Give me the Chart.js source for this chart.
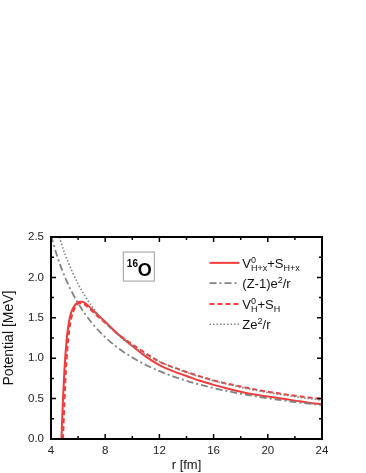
<!DOCTYPE html>
<html>
<head>
<meta charset="utf-8">
<script src="https://cdn.jsdelivr.net/npm/chart.js@4.4.1/dist/chart.umd.min.js"></script>
<style>
html,body{margin:0;padding:0;background:#fff;}
#wrap{position:relative;width:366px;height:473px;}
</style>
</head>
<body>
<div id="wrap"><canvas id="c" width="366" height="473"></canvas></div>
<script>
// ---- data ----
const rSolid = [4.72,4.8,4.9,5.0,5.1,5.2,5.35,5.5,5.7,5.9,6.1,6.3,6.6,7.0,7.5,8,9,10,11,12,13,14,15,16,17,18,19,20,21,22,23,24];
const vSolid = [-0.3,0.15,0.55,0.88,1.12,1.3,1.47,1.57,1.64,1.68,1.70,1.70,1.67,1.61,1.53,1.45,1.29,1.15,1.02,0.915,0.84,0.78,0.72,0.67,0.625,0.585,0.55,0.525,0.50,0.475,0.45,0.43];
const rDashed = [4.85,4.9,5.0,5.1,5.2,5.35,5.5,5.7,5.9,6.1,6.3,6.6,7.0,7.5,8,9,10,11,12,13,14,15,16,17,18,19,20,21,22,23,24];
const vDashed = [-0.3,0.05,0.5,0.85,1.1,1.35,1.5,1.6,1.66,1.68,1.68,1.65,1.59,1.51,1.44,1.29,1.17,1.06,0.957,0.89,0.83,0.775,0.725,0.685,0.65,0.615,0.585,0.56,0.535,0.515,0.495];
const rZ1 = [4,4.5,5,5.5,6,6.5,7,8,9,10,11,12,13,14,15,16,17,18,19,20,21,22,23,24];
const vZ1 = [2.52,2.24,2.016,1.833,1.68,1.551,1.44,1.26,1.12,1.008,0.916,0.84,0.775,0.72,0.672,0.63,0.593,0.56,0.531,0.504,0.48,0.458,0.438,0.42];
const rZ = [4.61,5,5.5,6,6.5,7,8,9,10,11,12,13,14,15,16,17,18,19,20,21,22,23,24];
const vZ = [2.5,2.304,2.095,1.92,1.772,1.646,1.44,1.28,1.152,1.047,0.96,0.886,0.823,0.768,0.72,0.678,0.64,0.606,0.576,0.549,0.524,0.501,0.48];
const xTicks = [4,8,12,16,20,24];
const yTicks = [0.0,0.5,1.0,1.5,2.0,2.5];
const legendNames = ['V0H+x+SH+x','(Z-1)e2/r','V0H+SH','Ze2/r'];

const RED = '#f23b3b';
const GRAY = '#828282';
const FONT = "'Liberation Sans', Arial, sans-serif";

function pts(xs, ys){ return xs.map((x,i)=>({x:x,y:ys[i]})); }

const framePlugin = {
  id:'frame',
  afterDatasetsDraw(chart){
    const ctx = chart.ctx, a = chart.chartArea;
    const xs = chart.scales.x, ys = chart.scales.y;
    ctx.save();
    ctx.strokeStyle = '#000';
    ctx.lineWidth = 1.5;
    for (let v = 4; v <= 24.001; v += 2) {
      const px = xs.getPixelForValue(v);
      const len = (Math.round(v) % 4 === 0) ? 5 : 3;
      ctx.beginPath();
      ctx.moveTo(px, a.bottom); ctx.lineTo(px, a.bottom - len);
      ctx.moveTo(px, a.top); ctx.lineTo(px, a.top + len);
      ctx.stroke();
    }
    for (let v = 0; v <= 2.5001; v += 0.25) {
      const py = ys.getPixelForValue(v);
      const len = (Math.abs(v*2 - Math.round(v*2)) < 1e-6) ? 5 : 3;
      ctx.beginPath();
      ctx.moveTo(a.left, py); ctx.lineTo(a.left + len, py);
      ctx.moveTo(a.right, py); ctx.lineTo(a.right - len, py);
      ctx.stroke();
    }
    ctx.lineWidth = 2;
    ctx.strokeRect(a.left, a.top, a.right - a.left, a.bottom - a.top);

    // label box "16O"
    const bx = xs.getPixelForValue(9.3), by = ys.getPixelForValue(2.32);
    ctx.lineWidth = 1;
    ctx.strokeStyle = '#9a9a9a';
    ctx.strokeRect(bx + 0.5, by + 0.5, 31, 29);
    ctx.fillStyle = '#000';
    ctx.textBaseline = 'alphabetic';
    ctx.textAlign = 'left';
    ctx.font = 'bold 10px ' + FONT;
    ctx.fillText('16', bx + 4, by + 15);
    ctx.font = 'bold 18px ' + FONT;
    ctx.fillText('O', bx + 15, by + 24);

    // legend
    const rows = [ys.getPixelForValue(2.18), ys.getPixelForValue(1.93), ys.getPixelForValue(1.67), ys.getPixelForValue(1.42)];
    const lx0 = xs.getPixelForValue(15.7), lx1 = xs.getPixelForValue(17.9);
    const tx = lx1 + 3;
    const styles = [
      {c:RED, w:2, d:[]},
      {c:GRAY, w:1.8, d:[7,3,2,3]},
      {c:RED, w:2, d:[5,3]},
      {c:GRAY, w:1.6, d:[1.5,2]}
    ];
    rows.forEach((y,i)=>{
      const s = styles[i];
      ctx.strokeStyle = s.c; ctx.lineWidth = s.w; ctx.setLineDash(s.d);
      ctx.beginPath(); ctx.moveTo(lx0, y); ctx.lineTo(lx1, y); ctx.stroke();
      ctx.setLineDash([]);
    });
    ctx.fillStyle = '#111';
    const big = '13px ' + FONT, small = '9px ' + FONT;
    function seg(x, y, text, font, dy){
      ctx.font = font; ctx.fillText(text, x, y + dy); return x + ctx.measureText(text).width;
    }
    let y = rows[0] + 5, x = tx;
    x = seg(x, y, 'V', big, 0);
    seg(x, y, '0', small, -5);
    x = seg(x, y, 'H+x', small, 3);
    x = seg(x, y, '+S', big, 0);
    x = seg(x, y, 'H+x', small, 3);
    y = rows[1] + 5; x = tx;
    x = seg(x, y, '(Z-1)e', big, 0);
    x = seg(x, y, '2', small, -5);
    x = seg(x, y, '/r', big, 0);
    y = rows[2] + 5; x = tx;
    x = seg(x, y, 'V', big, 0);
    seg(x, y, '0', small, -5);
    x = seg(x, y, 'H', small, 3);
    x = seg(x, y, '+S', big, 0);
    x = seg(x, y, 'H', small, 3);
    y = rows[3] + 5; x = tx;
    x = seg(x, y, 'Ze', big, 0);
    x = seg(x, y, '2', small, -5);
    x = seg(x, y, '/r', big, 0);
    ctx.restore();
  }
};

new Chart(document.getElementById('c'), {
  type: 'line',
  data: {
    datasets: [
      {label: legendNames[3], data: pts(rZ, vZ), borderColor: GRAY, borderWidth: 1.6, borderDash: [1.5,2], pointRadius: 0, cubicInterpolationMode: 'monotone'},
      {label: legendNames[1], data: pts(rZ1, vZ1), borderColor: GRAY, borderWidth: 1.8, borderDash: [7,3,2,3], pointRadius: 0, cubicInterpolationMode: 'monotone'},
      {label: legendNames[2], data: pts(rDashed, vDashed), borderColor: RED, borderWidth: 2, borderDash: [5,3], pointRadius: 0, cubicInterpolationMode: 'monotone'},
      {label: legendNames[0], data: pts(rSolid, vSolid), borderColor: RED, borderWidth: 2, pointRadius: 0, cubicInterpolationMode: 'monotone'}
    ]
  },
  options: {
    responsive: false,
    animation: false,
    events: [],
    layout: {padding: {top: 237, right: 44, left: 0, bottom: 0}},
    plugins: {legend: {display: false}, tooltip: {enabled: false}},
    scales: {
      x: {
        type: 'linear', min: 4, max: 24,
        afterBuildTicks: s => { s.ticks = xTicks.map(v => ({value: v})); },
        ticks: {font: {family: FONT, size: 11.5}, color: '#222', padding: 5, maxRotation: 0},
        grid: {display: false, drawTicks: false},
        border: {display: false},
        title: {display: true, text: 'r [fm]', font: {family: FONT, size: 13}, color: '#111', padding: 0},
        afterFit: s => { s.height = 34; }
      },
      y: {
        type: 'linear', min: 0, max: 2.5,
        afterBuildTicks: s => { s.ticks = yTicks.map(v => ({value: v})); },
        ticks: {font: {family: FONT, size: 11.5}, color: '#222', padding: 7, callback: v => Number(v).toFixed(1)},
        grid: {display: false, drawTicks: false},
        border: {display: false},
        title: {display: true, text: 'Potential [MeV]', font: {family: FONT, size: 14}, color: '#111', padding: {top: 1, bottom: 1}},
        afterFit: s => { s.width = 51; }
      }
    }
  },
  plugins: [framePlugin]
});
</script>
</body>
</html>
